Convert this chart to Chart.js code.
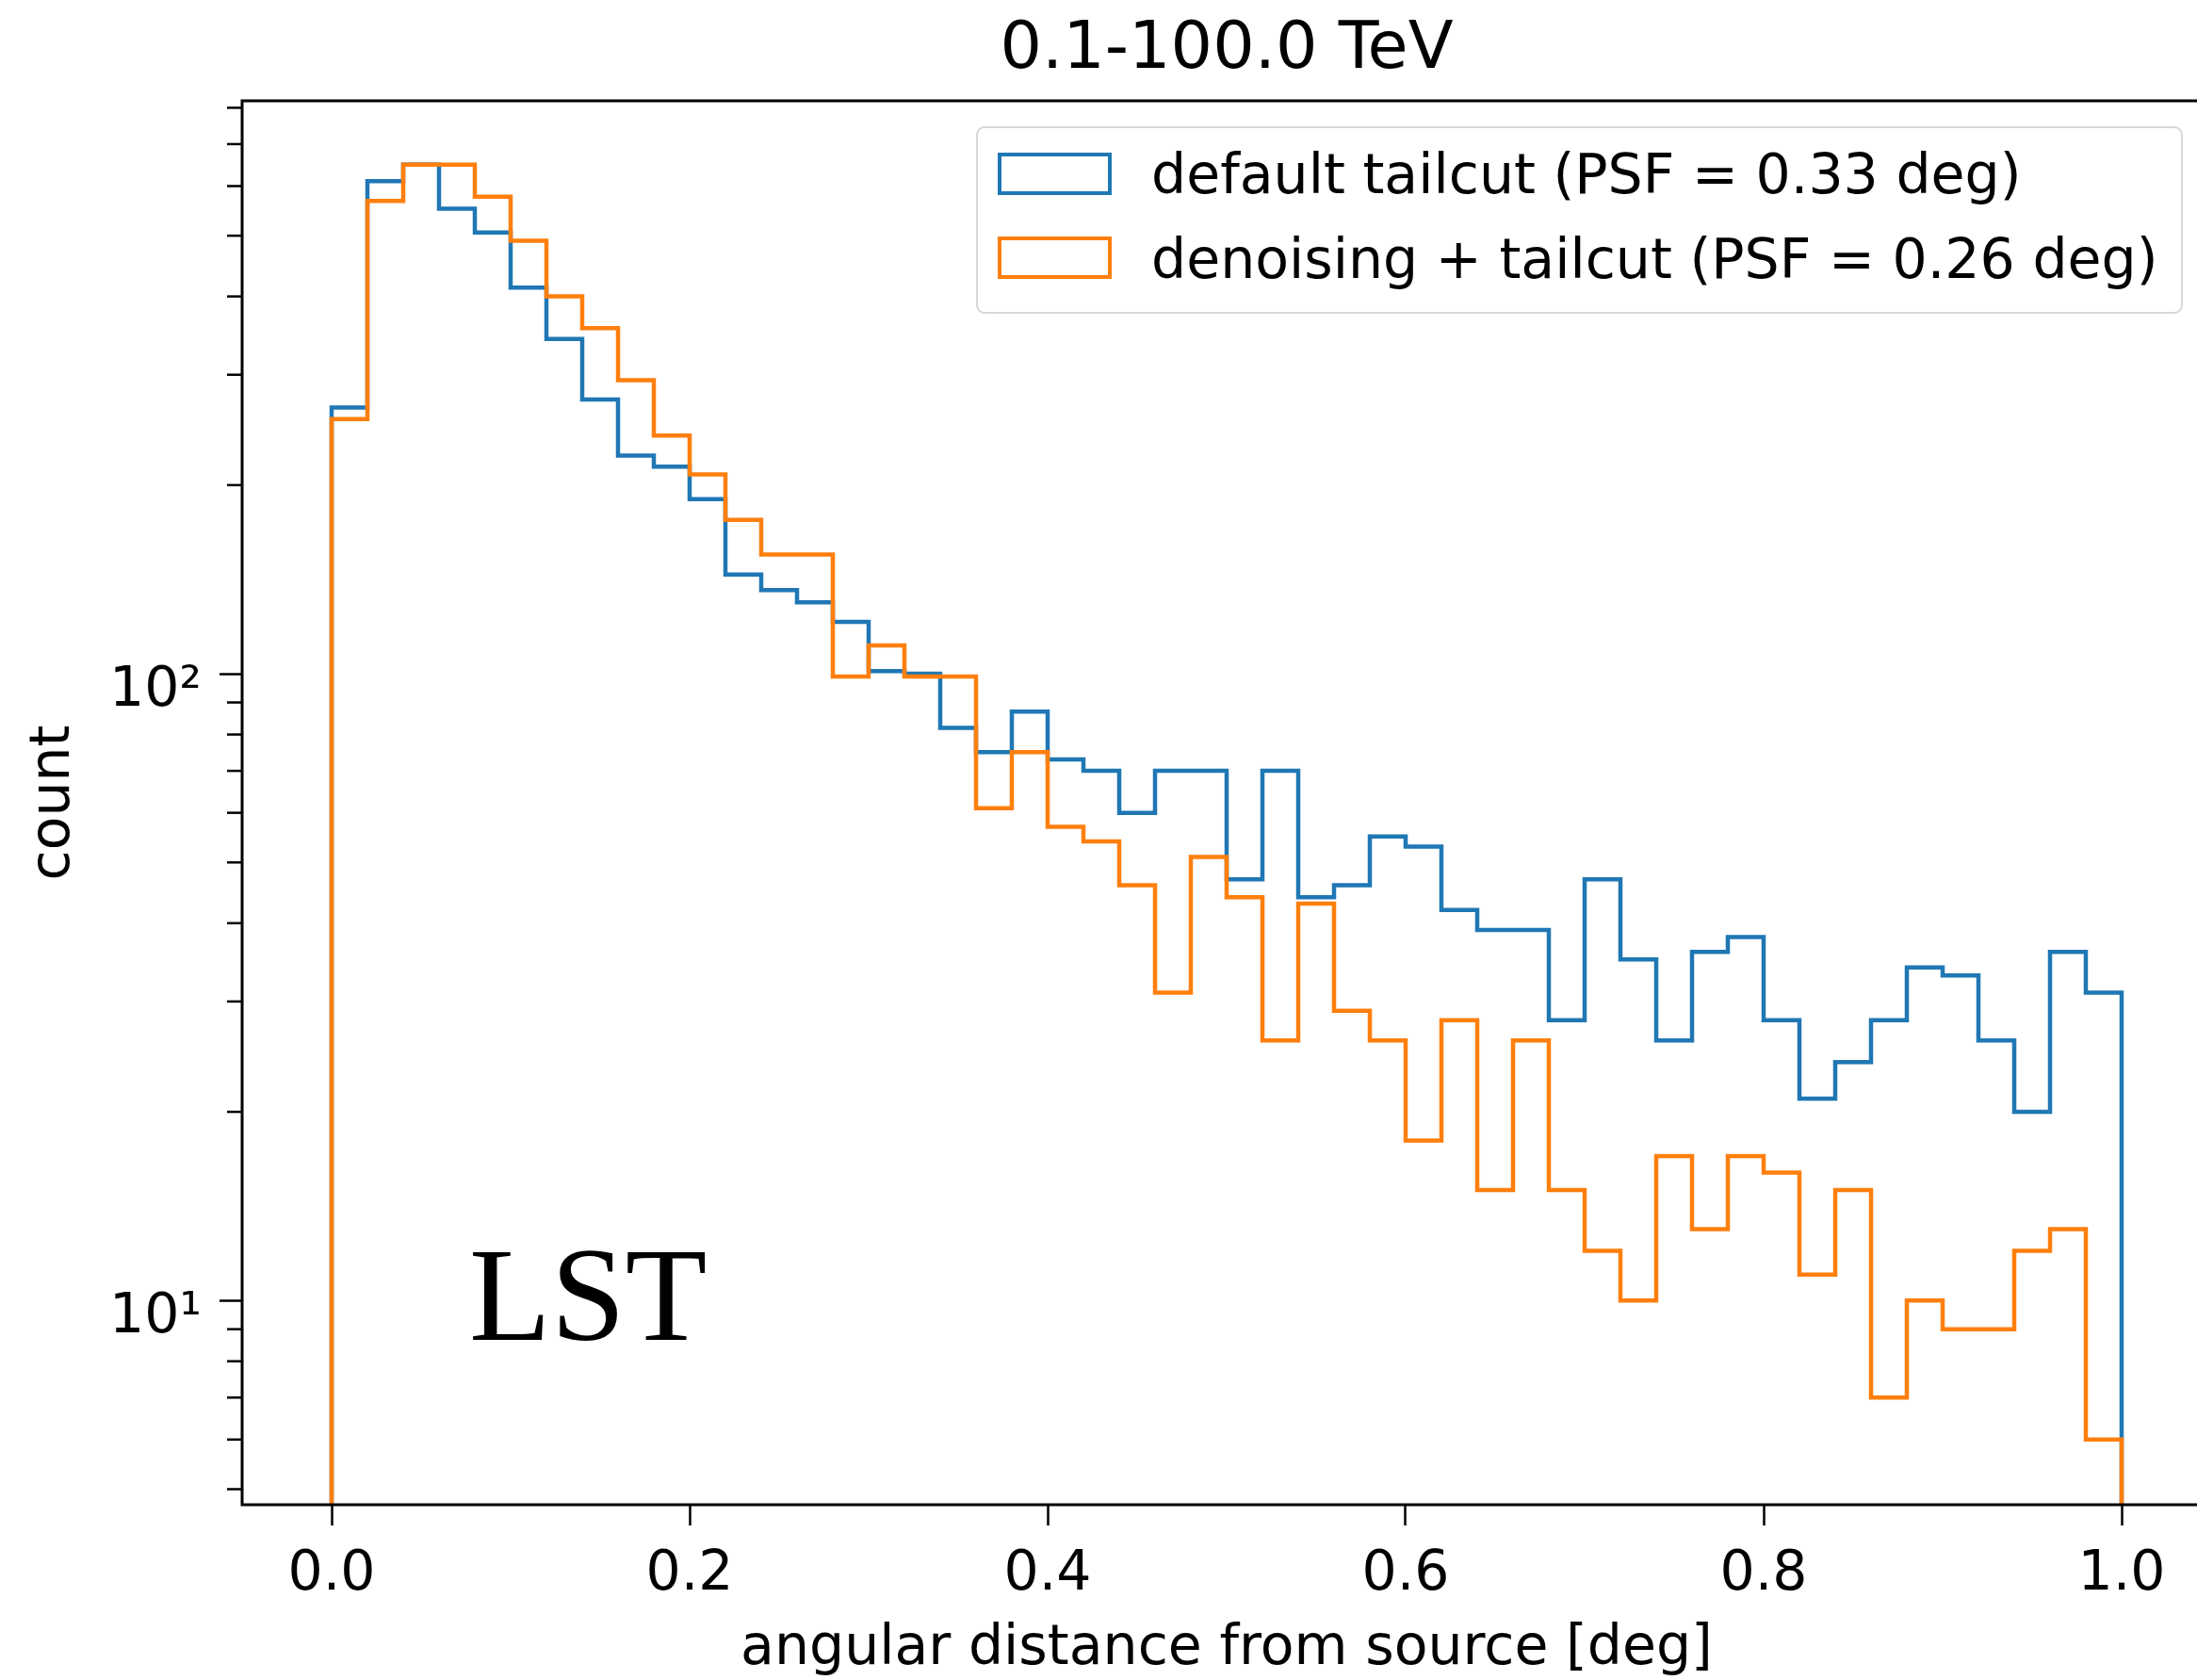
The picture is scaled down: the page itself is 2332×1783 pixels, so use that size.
<!DOCTYPE html>
<html>
<head>
<meta charset="utf-8">
<script src="https://cdn.jsdelivr.net/npm/chart.js@4.4.1/dist/chart.umd.min.js"></script>
<style>
  html, body { margin: 0; padding: 0; background: #fff; overflow: hidden; }
  #wrap { position: relative; width: 2332px; height: 1783px; overflow: hidden; }
  #myChart { position: absolute; left: 0; top: 0; }
  .legend-box {
    position: absolute; left: 1036px; top: 134px; width: 1281px; height: 199px;
    box-sizing: border-box; border: 2.5px solid #d6d6d6; border-radius: 9px;
    background: rgba(255, 255, 255, 0.8);
  }
  .legend-patch { position: absolute; left: 1059px; width: 121px; height: 45px; box-sizing: border-box; border: 4.5px solid; }
  .legend-text {
    position: absolute; left: 1222px; font-family: "DejaVu Sans"; font-size: 58.5px;
    line-height: 70px; white-space: nowrap; color: #000;
  }
  .note {
    position: absolute; left: 498px; top: 1303px; font-family: "Liberation Serif";
    font-size: 142px; line-height: 1; color: #000;
  }
</style>
</head>
<body>
<div id="wrap">
  <canvas id="myChart" width="2360" height="1783"></canvas>
  <div id="legend"></div>
  <div class="note" id="note"></div>
</div>
<script>
// bin edges of the histogram (deg)
const binEdges = [
  0.00, 0.02, 0.04, 0.06, 0.08, 0.10, 0.12, 0.14, 0.16, 0.18,
  0.20, 0.22, 0.24, 0.26, 0.28, 0.30, 0.32, 0.34, 0.36, 0.38,
  0.40, 0.42, 0.44, 0.46, 0.48, 0.50, 0.52, 0.54, 0.56, 0.58,
  0.60, 0.62, 0.64, 0.66, 0.68, 0.70, 0.72, 0.74, 0.76, 0.78,
  0.80, 0.82, 0.84, 0.86, 0.88, 0.90, 0.92, 0.94, 0.96, 0.98, 1.00,
];

// counts per bin
const defaultCounts = [
  266, 611, 649, 552, 506, 413, 342, 274, 223, 214,
  190, 144, 136, 130, 121, 101, 100, 82, 75, 87,
  73, 70, 60, 70, 70, 47, 70, 44, 46, 55,
  53, 42, 39, 39, 28, 47, 35, 26, 36, 38,
  28, 21, 24, 28, 34, 33, 26, 20, 36, 31,
];

const denoisedCounts = [
  255, 568, 649, 649, 577, 491, 400, 356, 294, 240,
  208, 176, 155, 155, 99, 111, 99, 99, 61, 75,
  57, 54, 46, 31, 51, 44, 26, 43, 29, 26,
  18, 28, 15, 26, 15, 12, 10, 17, 13, 17,
  16, 11, 15, 7, 10, 9, 9, 12, 13, 6,
];

const seriesLabels = [
  "default tailcut (PSF = 0.33 deg)",
  "denoising + tailcut (PSF = 0.26 deg)",
];
const seriesColors = ["#1f77b4", "#ff7f0e"];

const xTickValues = [0.0, 0.2, 0.4, 0.6, 0.8, 1.0];
const yMajorTicks = [10, 100];
const yMinorTicks = [5, 6, 7, 8, 9, 20, 30, 40, 50, 60, 70, 80, 90, 200, 300, 400, 500, 600, 700, 800];

const titleText = "0.1-100.0 TeV";
const xLabel = "angular distance from source [deg]";
const yLabel = "count";
const noteText = "LST";

// baseline for the outline, below the visible log range
const COUNT_FLOOR = 1;

const font = "DejaVu Sans";
const superscripts = { 1: "\u00b9", 2: "\u00b2" };

function stepPoints(counts) {
  let pts = [{ x: binEdges[0], y: COUNT_FLOOR }];
  counts.forEach((c, i) => pts.push({ x: binEdges[i], y: c }));
  pts.push({ x: binEdges[binEdges.length - 1], y: COUNT_FLOOR });
  return pts;
}

function populateLegend() {
  let legendEl = document.querySelector("#legend");
  let html = '<div class="legend-box"></div>';
  seriesLabels.forEach((label, i) => {
    let patchTop = 161.7 + i * 89.5;
    let textTop = 150 + i * 89.5;
    html += `<div class="legend-patch" style="top:${patchTop}px;border-color:${seriesColors[i]}"></div>`;
    html += `<div class="legend-text" style="top:${textTop}px">${label}</div>`;
  });
  legendEl.innerHTML = html;
  document.querySelector("#note").textContent = noteText;
}

const frameAndMinorTicks = {
  id: "frameAndMinorTicks",
  afterDraw(chart) {
    let { ctx, chartArea: a, scales } = chart;
    ctx.save();
    ctx.strokeStyle = "#000";
    ctx.lineWidth = 2.5;
    yMinorTicks.forEach((v) => {
      let y = scales.y.getPixelForValue(v);
      ctx.beginPath();
      ctx.moveTo(a.left - 16, y);
      ctx.lineTo(a.left, y);
      ctx.stroke();
    });
    ctx.lineWidth = 3;
    ctx.strokeRect(a.left, a.top, a.right - a.left, a.bottom - a.top);
    ctx.restore();
  },
};

let ctx = document.getElementById("myChart").getContext("2d");

let myChart = new Chart(ctx, {
  type: "line",
  data: {
    datasets: [
      {
        label: seriesLabels[0],
        data: stepPoints(defaultCounts),
        borderColor: seriesColors[0],
        order: 1,
      },
      {
        label: seriesLabels[1],
        data: stepPoints(denoisedCounts),
        borderColor: seriesColors[1],
        order: 0,
      },
    ],
  },
  options: {
    responsive: false,
    animation: false,
    layout: { padding: { left: 0, right: 13, top: 0, bottom: 0 } },
    elements: {
      line: { stepped: "before", borderWidth: 4.5, tension: 0, fill: false, borderJoinStyle: "miter" },
      point: { radius: 0, hoverRadius: 0 },
    },
    datasets: { line: { clip: 0 } },
    plugins: {
      legend: { display: false },
      tooltip: { enabled: false },
      title: {
        display: true,
        text: titleText,
        fullSize: false,
        color: "#000",
        font: { family: font, size: 70, weight: "normal", lineHeight: 1.2 },
        padding: { top: 11.5, bottom: 11.5 },
      },
    },
    scales: {
      x: {
        type: "linear",
        min: -0.05,
        max: 1.05,
        afterFit: (scale) => { scale.height = 186; },
        afterBuildTicks: (scale) => { scale.ticks = xTickValues.map((v) => ({ value: v })); },
        grid: { drawOnChartArea: false, drawTicks: true, tickLength: 22, tickWidth: 2.5, tickColor: "#000" },
        border: { display: false },
        ticks: {
          autoSkip: false,
          maxRotation: 0,
          padding: 17.7,
          color: "#000",
          font: { family: font, size: 58.5 },
          callback: (v) => Number(v).toFixed(1),
        },
        title: {
          display: true,
          text: xLabel,
          color: "#000",
          font: { family: font, size: 58.5, lineHeight: 1.1 },
          padding: { top: 0, bottom: 0 },
        },
      },
      y: {
        type: "logarithmic",
        min: 4.722,
        max: 820.7,
        afterFit: (scale) => { scale.width = 257; },
        afterBuildTicks: (scale) => { scale.ticks = yMajorTicks.map((v) => ({ value: v })); },
        grid: { drawOnChartArea: false, drawTicks: true, tickLength: 24, tickWidth: 2.5, tickColor: "#000" },
        border: { display: false },
        ticks: {
          autoSkip: false,
          padding: 19,
          labelOffset: 18.8,
          color: "#000",
          font: { family: font, size: 58.5 },
          callback: (v) => "10" + superscripts[Math.round(Math.log10(v))],
        },
        title: {
          display: true,
          text: yLabel,
          color: "#000",
          font: { family: font, size: 58.5, lineHeight: 1.2 },
          padding: { top: 22.7, bottom: 0 },
        },
      },
    },
  },
  plugins: [frameAndMinorTicks],
});

populateLegend();
</script>
</body>
</html>
